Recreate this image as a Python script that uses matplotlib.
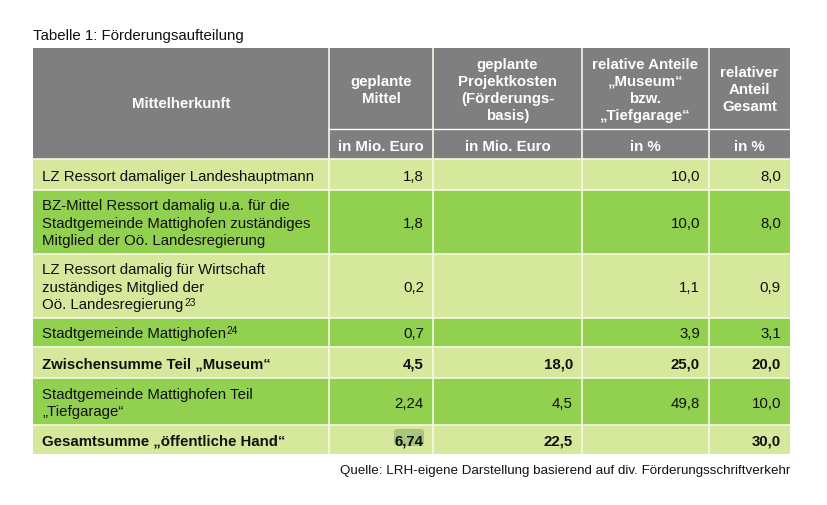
import matplotlib.pyplot as plt
from matplotlib.patches import Rectangle, FancyBboxPatch

plt.rcParams['font.family'] = ['Liberation Sans', 'DejaVu Sans']

# table content
title = "Tabelle 1: Förderungsaufteilung"
source = "Quelle: LRH-eigene Darstellung basierend auf div. Förderungsschriftverkehr"
headers = ["Mittelherkunft", "geplante\nMittel", "geplante\nProjektkosten\n(Förderungs-\nbasis)",
           "relative Anteile\n„Museum“\nbzw.\n„Tiefgarage“", "relativer\nAnteil\nGesamt"]
units = ["in Mio. Euro", "in Mio. Euro", "in %", "in %"]
labels = ["LZ Ressort damaliger Landeshauptmann",
          "BZ-Mittel Ressort damalig u.a. für die\nStadtgemeinde Mattighofen zuständiges\nMitglied der Oö. Landesregierung",
          "LZ Ressort damalig für Wirtschaft\nzuständiges Mitglied der\nOö. Landesregierung",
          "Stadtgemeinde Mattighofen",
          "Zwischensumme Teil „Museum“",
          "Stadtgemeinde Mattighofen Teil\n„Tiefgarage“",
          "Gesamtsumme „öffentliche Hand“"]
footnotes = {2: "23", 3: "24"}
mittel = ["1,8", "1,8", "0,2", "0,7", "4,5", "2,24", "6,74"]
projektkosten = ["", "", "", "", "18,0", "4,5", "22,5"]
anteil_teil = ["10,0", "10,0", "1,1", "3,9", "25,0", "49,8", ""]
anteil_gesamt = ["8,0", "8,0", "0,9", "3,1", "20,0", "10,0", "30,0"]
bold_rows = [4, 6]

# layout (pixels)
col_x = [33, 329, 433, 582, 709, 790]
head_top, head_mid, head_bot = 49, 130, 160
row_y = [160, 190.5, 254.5, 318.5, 347.5, 378.5, 426, 455]
light, dark, grey = "#d5e89b", "#92d050", "#7f7f7f"
line_col = "#f4f8e6"
fs = 10.8
txt = "#111111"

fig = plt.figure(figsize=(8.28, 5.06), dpi=100)
ax = fig.add_axes([0, 0, 1, 1])
ax.set_xlim(0, 828)
ax.set_ylim(506, 0)
ax.axis('off')
renderer = fig.canvas.get_renderer()


def lines_at(x, yc, text, ha, step, **kw):
    # draw each line on its own baseline so the spacing is fixed
    parts = text.split("\n")
    n = len(parts)
    out = []
    for k, p in enumerate(parts):
        base = yc + (k - (n - 1) / 2) * step + 5.3
        out.append(ax.text(x, base, p, ha=ha, va='baseline', fontsize=fs, **kw))
    return out, base


ax.text(col_x[0], 39.5, title, fontsize=fs, va='baseline', ha='left', color=txt)

# header
ax.add_patch(Rectangle((col_x[0], head_top), col_x[-1] - col_x[0], head_bot - head_top,
                       facecolor=grey, edgecolor='none'))
lines_at((col_x[0] + col_x[1]) / 2, (head_top + head_bot) / 2 - 1.5, headers[0], 'center', 16.9,
         fontweight='bold', color='white')
for j in range(1, 5):
    cx = (col_x[j] + col_x[j + 1]) / 2
    lines_at(cx, 89, headers[j], 'center', 16.9, fontweight='bold', color='white')
    lines_at(cx, (head_mid + head_bot) / 2 + 0.5, units[j - 1], 'center', 16.9,
             fontweight='bold', color='white')
ax.plot([col_x[1], col_x[-1]], [head_mid, head_mid], color='white', lw=1)

# body
columns = [mittel, projektkosten, anteil_teil, anteil_gesamt]
for i, lab in enumerate(labels):
    y0, y1 = row_y[i], row_y[i + 1]
    yc = (y0 + y1) / 2
    ax.add_patch(Rectangle((col_x[0], y0), col_x[-1] - col_x[0], y1 - y0,
                           facecolor=light if i % 2 == 0 else dark, edgecolor='none'))
    w = 'bold' if i in bold_rows else 'normal'
    texts, base = lines_at(col_x[0] + 9, yc, lab, 'left', 17.7, fontweight=w, color=txt)
    if i in footnotes:
        bb = texts[-1].get_window_extent(renderer)
        x_end = ax.transData.inverted().transform((bb.x1, bb.y0))[0]
        ax.text(x_end + 0.8, base - 4, footnotes[i], fontsize=fs * 0.68, ha='left',
                va='baseline', color=txt)
    for j, col in enumerate(columns):
        if col[i]:
            if i == 6 and j == 0:
                ax.add_patch(FancyBboxPatch((394, 430), 30, 17, boxstyle="round,pad=0,rounding_size=3",
                                            facecolor="#a8c67e", edgecolor='none'))
            lines_at(col_x[j + 2] - 9, yc, col[i], 'right', 17.7, fontweight=w, color=txt)
    if i > 0:
        ax.plot([col_x[0], col_x[-1]], [y0, y0], color=line_col, lw=1.2)

for x in col_x[1:-1]:
    ax.plot([x, x], [head_top, row_y[-1]], color=line_col, lw=1.2)
ax.plot([col_x[0], col_x[-1]], [head_bot, head_bot], color=line_col, lw=1.2)

ax.text(col_x[-1], 474, source, fontsize=9.6, ha='right', va='baseline', color=txt)

fig.savefig("out.png", dpi=100)
